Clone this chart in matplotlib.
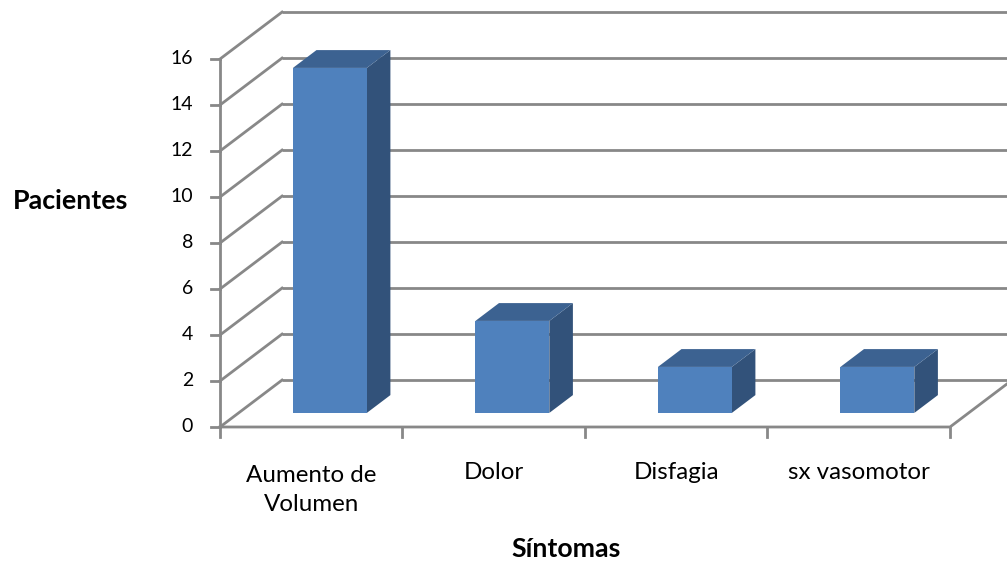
import matplotlib

matplotlib.use("Agg")
import matplotlib.pyplot as plt
from matplotlib.patches import Polygon

categories = ["Aumento de\nVolumen", "Dolor", "Disfagia", "sx vasomotor"]
pacientes = [15, 4, 2, 2]
y_ticks = [0, 2, 4, 6, 8, 10, 12, 14, 16]

# oblique 3D look: depth offset of the back wall in data units
DX, DY = 0.34, 2.04
F0, F1 = 0.30, 0.68  # bar depth span as fraction of floor depth
BAR_W = 0.405
LINE_STEP = 32 / 23  # distance between label baselines, value units

FRONT = "#4F81BD"
TOP = "#3C6291"
SIDE = "#32527A"
GRID = "#888888"

plt.rcParams["font.family"] = ["Lato", "DejaVu Sans"]

fig = plt.figure(figsize=(10.07, 5.67), dpi=100)
ax = fig.add_axes([0, 0, 1, 1])
ax.set_xlim(-220 / 182.5, 787 / 182.5)
ax.set_ylim(-140 / 23, 427 / 23)
ax.axis("off")

n = len(categories)
top = y_ticks[-1]

# back wall gridlines and left wall diagonals
for v in y_ticks:
    ax.plot([DX, n + DX], [v + DY, v + DY], color=GRID, lw=2, zorder=1,
            solid_capstyle="butt")
    ax.plot([0, DX], [v, v + DY], color=GRID, lw=2, zorder=1)
    ax.plot([-0.049, 0], [v, v], color=GRID, lw=2, zorder=1)
    ax.text(-0.148, v, str(v), ha="right", va="center", fontsize=14)

# floor edges and front value axis
ax.plot([0, n, n + DX], [0, 0, DY], color=GRID, lw=2, zorder=1)
ax.plot([0, 0], [0, top], color=GRID, lw=2, zorder=1)
for i in range(n + 1):
    ax.plot([i, i], [0, -0.42], color=GRID, lw=2, zorder=1)

# bars: front, top and right side faces
for i, v in enumerate(pacientes):
    xl = i + 0.5 - BAR_W / 2
    xr = i + 0.5 + BAR_W / 2
    x0, y0 = F0 * DX, F0 * DY
    x1, y1 = F1 * DX, F1 * DY
    front = [(xl + x0, y0), (xr + x0, y0), (xr + x0, v + y0), (xl + x0, v + y0)]
    lid = [(xl + x0, v + y0), (xr + x0, v + y0), (xr + x1, v + y1), (xl + x1, v + y1)]
    side = [(xr + x0, y0), (xr + x1, y1), (xr + x1, v + y1), (xr + x0, v + y0)]
    ax.add_patch(Polygon(side, closed=True, fc=SIDE, ec="none", zorder=3))
    ax.add_patch(Polygon(lid, closed=True, fc=TOP, ec="none", zorder=3))
    ax.add_patch(Polygon(front, closed=True, fc=FRONT, ec="none", zorder=4))

# category labels hang from the first-line baseline
for i, name in enumerate(categories):
    extra = name.count("\n")
    ax.text(i + 0.5, -2.26 - extra * LINE_STEP, name, ha="center",
            va="baseline", fontsize=17.4, linespacing=1.47)

ax.text(-1.136, 9.48, "Pacientes", ha="left", va="baseline", fontsize=19.3,
        fontweight="bold")
ax.text(1.896, -5.65, "Síntomas", ha="center", va="baseline", fontsize=19.3,
        fontweight="bold")

fig.savefig("out.png", dpi=100)
